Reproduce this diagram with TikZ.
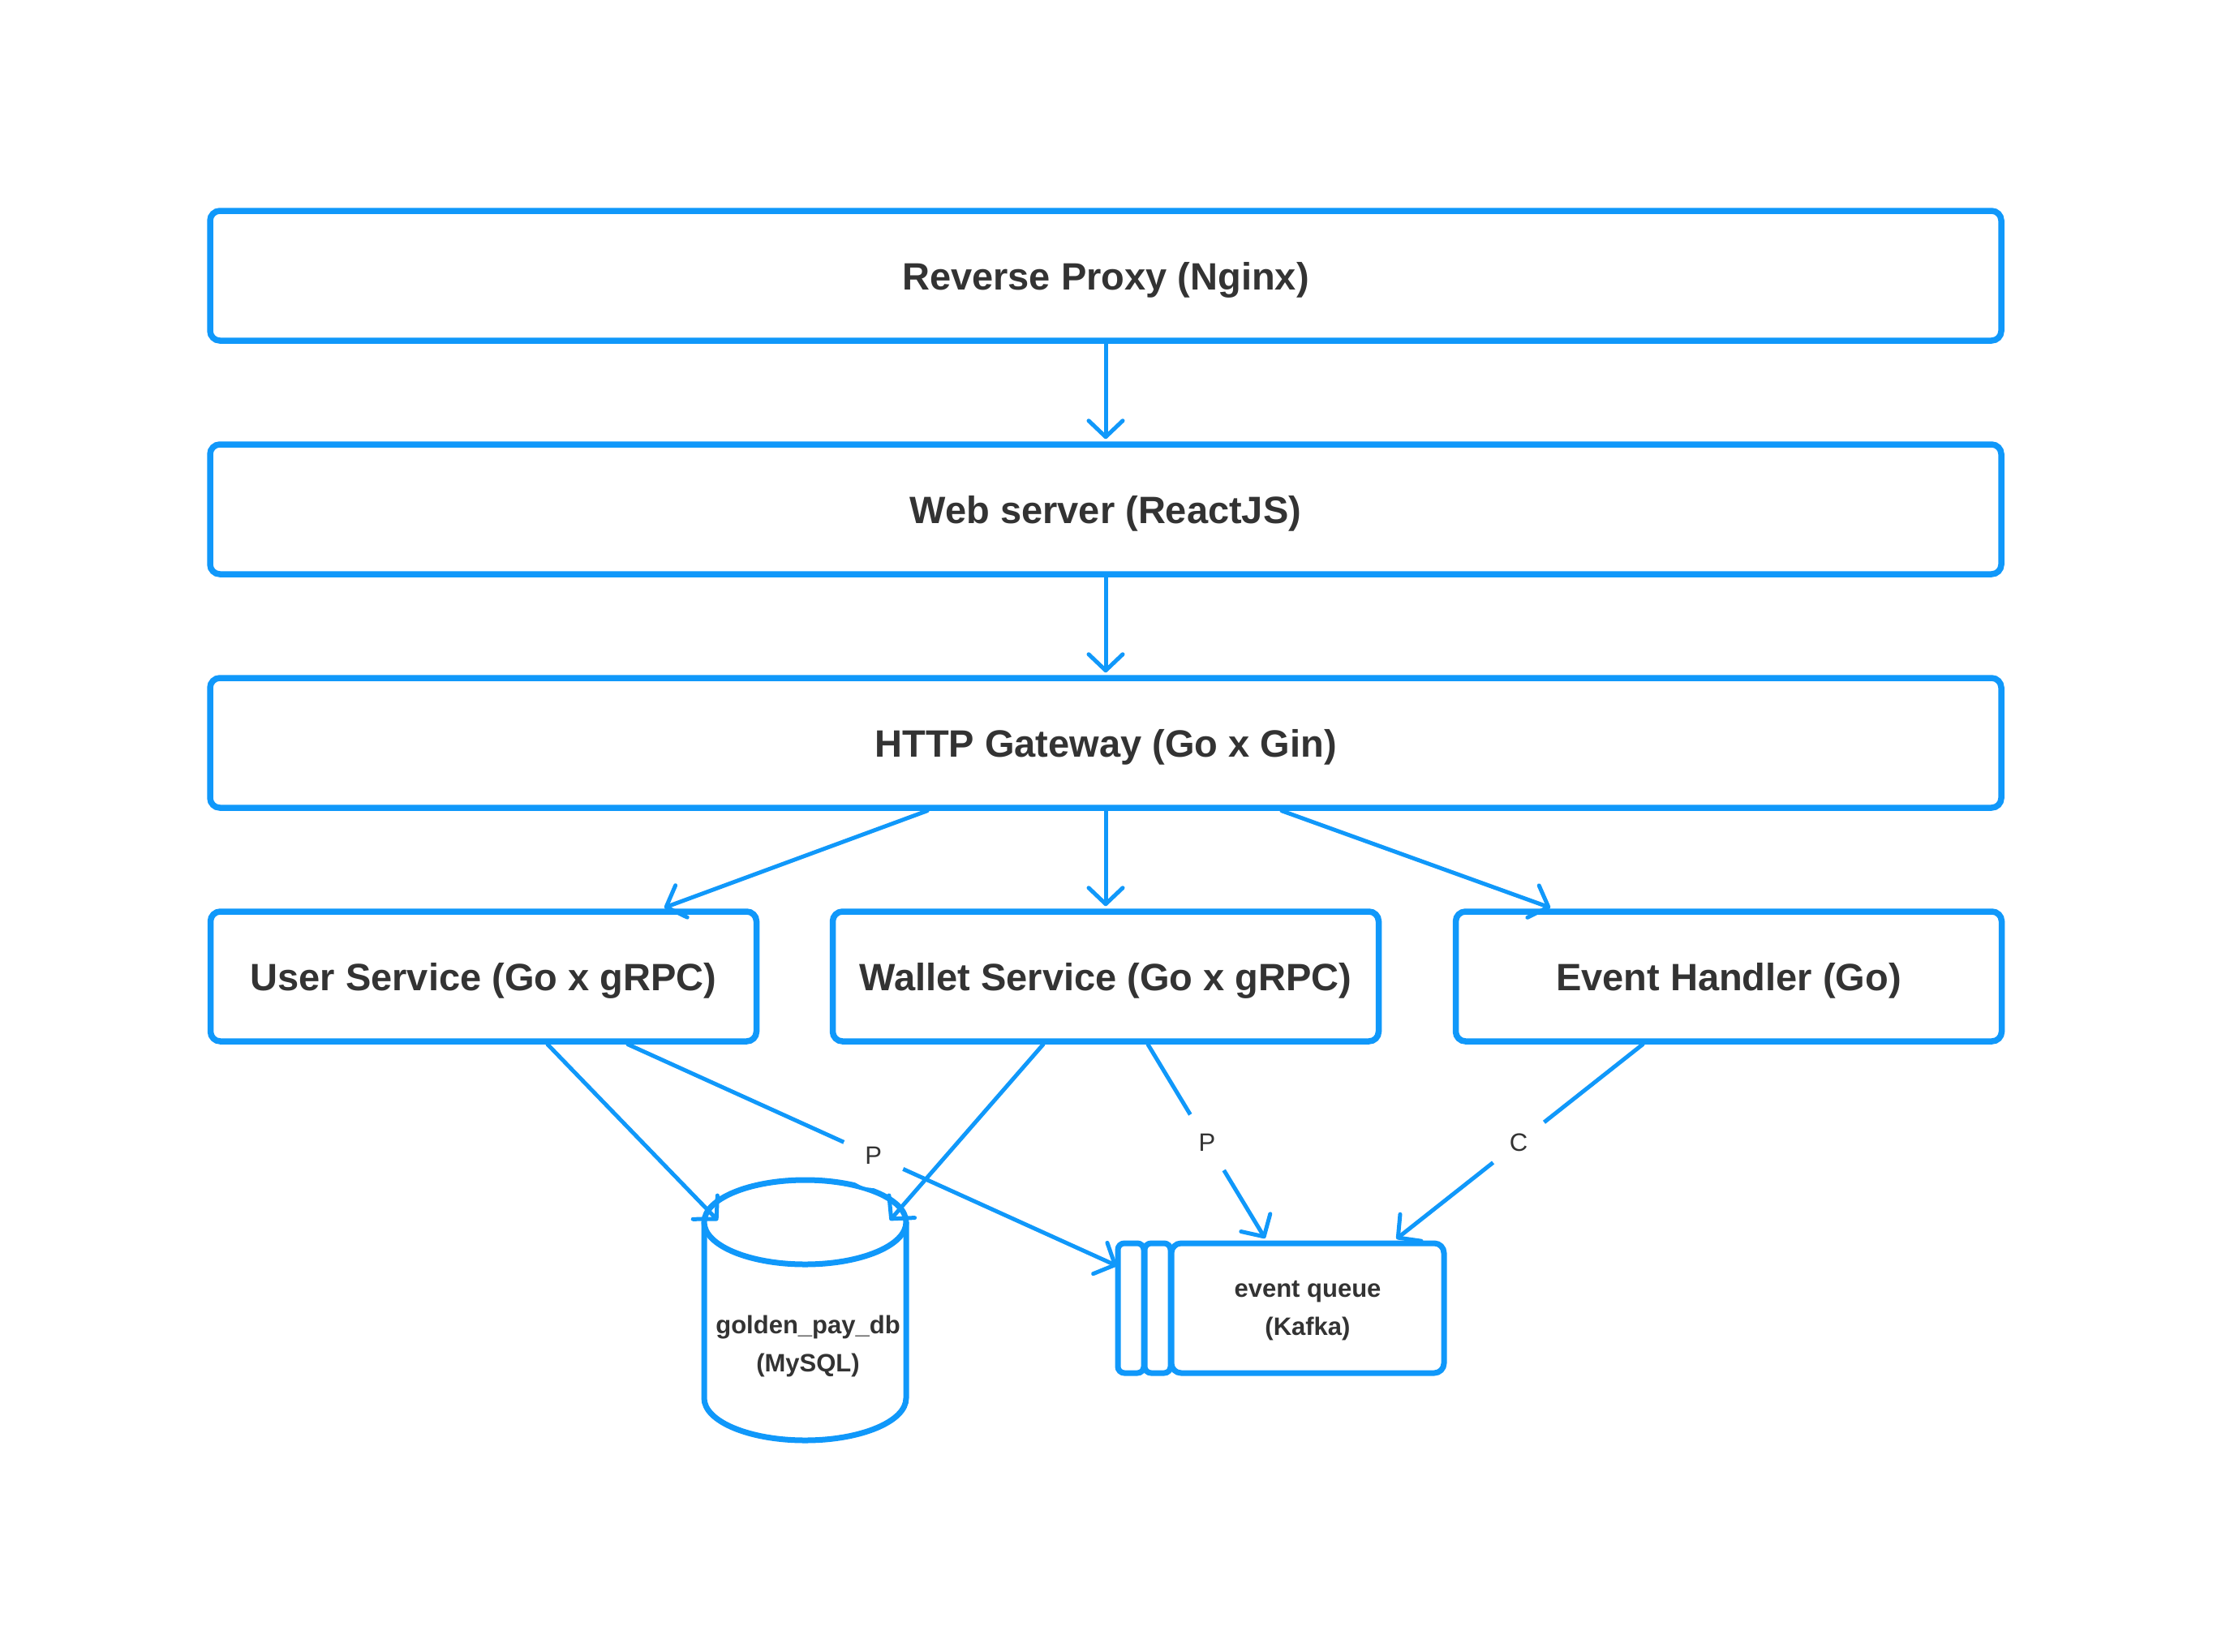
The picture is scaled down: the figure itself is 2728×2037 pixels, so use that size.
\documentclass[tikz,border=0pt]{standalone}
\usepackage{fontspec}
\setmainfont{Liberation Sans}
\usetikzlibrary{arrows.meta,calc}
\definecolor{ebl}{RGB}{16,152,250}
\definecolor{etx}{RGB}{51,51,51}
\begin{document}
\begin{tikzpicture}[x=1pt,y=-1pt,
  box/.style={draw=ebl,line width=7.5pt,rounded corners=12pt,fill=white,text=etx,
    font=\fontsize{47}{55}\selectfont\bfseries,inner sep=0pt,minimum height=160pt,
    text height=34pt,text depth=0pt},
  wide/.style={box,minimum width=2208pt},
  svc/.style={box,minimum width=673pt},
  qbar/.style={draw=ebl,line width=7pt,rounded corners=8pt,fill=white,minimum width=32pt,minimum height=160pt,inner sep=0pt},
  qmain/.style={draw=ebl,line width=7pt,rounded corners=12pt,fill=white,minimum width=336pt,minimum height=160pt,inner sep=0pt,
    text=etx,font=\fontsize{31}{47}\selectfont\bfseries,align=center,text depth=0pt},
  conn/.style={draw=ebl,line width=5pt,line cap=round,shorten >=3pt,-{Straight Barb[length=20pt,width=42pt,round]}},
  lbl/.style={fill=white,circle,minimum size=80pt,inner sep=0pt,text=etx,font=\fontsize{31}{34}\selectfont},
  small/.style={text=etx,font=\fontsize{31}{47}\selectfont\bfseries,align=center,inner sep=0pt}]
\useasboundingbox[fill=white] (0,0) rectangle (2728,2037);

\node[wide] (proxy) at (1363,340) {Reverse Proxy (Nginx)};
\node[wide] (web) at (1363,628) {Web server (ReactJS)};
\node[wide] (http) at (1363,916) {HTTP Gateway (Go x Gin)};
\node[svc] (user) at (596,1204) {User Service (Go x gRPC)};
\node[svc] (wallet) at (1363,1204) {Wallet Service (Go x gRPC)};
\node[svc] (event) at (2131,1204) {Event Handler (Go)};

% database cylinder
\draw[draw=ebl,line width=7pt,fill=white] (868,1507) -- (868,1724)
  arc[start angle=180,end angle=0,x radius=124.5,y radius=52] -- (1117,1507);
\draw[draw=ebl,line width=7pt,fill=white] (992.5,1507) ellipse[x radius=124.5,y radius=52];
\node[small] (db) at (996,1660) {golden\_pay\_db\\(MySQL)};
\coordinate (dbL) at (887,1507);
\coordinate (dbR) at (1095,1507);

% queue
\node[qmain] (q3) at (1612,1613) {event queue\\(Kafka)};
\node[qbar] (q1) at (1394,1613) {};
\node[qbar] (q2) at (1427,1613) {};

% connectors
\draw[conn] (proxy.south) -- (web.north);
\draw[conn] (web.south) -- (http.north);
\draw[conn] ($(http.south)+(-220,0)$) -- ($(user.north)+(220,0)$);
\draw[conn] (http.south) -- (wallet.north);
\draw[conn] ($(http.south)+(217,0)$) -- ($(event.north)+(-217,0)$);
\draw[conn] ($(user.south)+(79,0)$) -- (dbL);
\draw[conn] ($(user.south)+(178,0)$) -- node[lbl]{P} ($(q1.west)+(5,-51)$);
\draw[conn] ($(wallet.south)+(-77,0)$) -- (dbR);
\draw[conn] ($(wallet.south)+(52,0)$) -- node[lbl]{P} ($(q3.north)+(-51,0)$);
\draw[conn] ($(event.south)+(-106,0)$) -- node[lbl]{C} ($(q3.north)+(107,0)$);
\end{tikzpicture}
\end{document}
